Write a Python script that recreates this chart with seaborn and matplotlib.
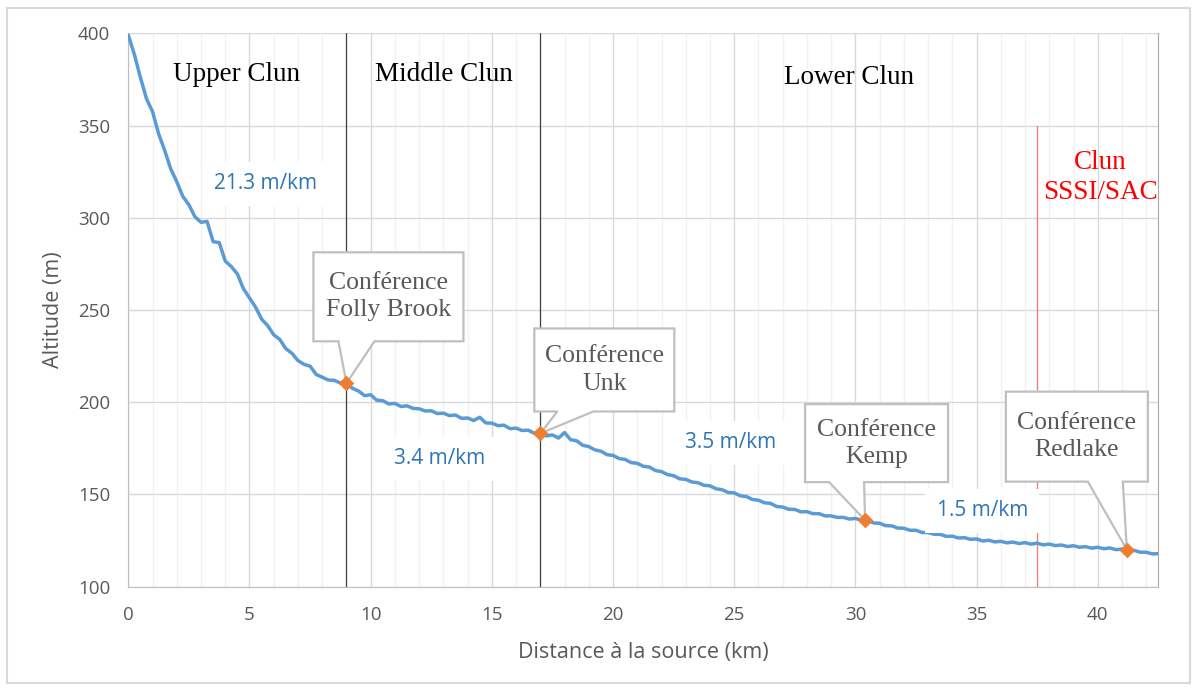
import matplotlib
matplotlib.use("Agg")
import matplotlib.pyplot as plt
import seaborn as sns
import pandas as pd
from matplotlib.patches import Rectangle, Polygon
from matplotlib.transforms import IdentityTransform
from matplotlib.ticker import MultipleLocator

# Profil en long de la Clun (lecture du graphique, pas de 0.25 km)
dist_km = [
    0.0, 0.25, 0.5, 0.75, 1.0, 1.25, 1.5, 1.75, 2.0, 2.25, 2.5, 2.75,
    3.0, 3.25, 3.5, 3.75, 4.0, 4.25, 4.5, 4.75, 5.0, 5.25, 5.5, 5.75,
    6.0, 6.25, 6.5, 6.75, 7.0, 7.25, 7.5, 7.75, 8.0, 8.25, 8.5, 8.75,
    9.0, 9.25, 9.5, 9.75, 10.0, 10.25, 10.5, 10.75, 11.0, 11.25, 11.5, 11.75,
    12.0, 12.25, 12.5, 12.75, 13.0, 13.25, 13.5, 13.75, 14.0, 14.25, 14.5, 14.75,
    15.0, 15.25, 15.5, 15.75, 16.0, 16.25, 16.5, 16.75, 17.0, 17.25, 17.5, 17.75,
    18.0, 18.25, 18.5, 18.75, 19.0, 19.25, 19.5, 19.75, 20.0, 20.25, 20.5, 20.75,
    21.0, 21.25, 21.5, 21.75, 22.0, 22.25, 22.5, 22.75, 23.0, 23.25, 23.5, 23.75,
    24.0, 24.25, 24.5, 24.75, 25.0, 25.25, 25.5, 25.75, 26.0, 26.25, 26.5, 26.75,
    27.0, 27.25, 27.5, 27.75, 28.0, 28.25, 28.5, 28.75, 29.0, 29.25, 29.5, 29.75,
    30.0, 30.25, 30.5, 30.75, 31.0, 31.25, 31.5, 31.75, 32.0, 32.25, 32.5, 32.75,
    33.0, 33.25, 33.5, 33.75, 34.0, 34.25, 34.5, 34.75, 35.0, 35.25, 35.5, 35.75,
    36.0, 36.25, 36.5, 36.75, 37.0, 37.25, 37.5, 37.75, 38.0, 38.25, 38.5, 38.75,
    39.0, 39.25, 39.5, 39.75, 40.0, 40.25, 40.5, 40.75, 41.0, 41.25, 41.5, 41.75,
    42.0, 42.25, 42.5]
altitude_m = [
    399.0, 388.5, 376.0, 364.5, 357.5, 345.5, 336.5, 326.5, 319.5, 311.5, 307.0, 300.5,
    297.5, 298.0, 287.0, 286.5, 276.5, 273.5, 269.5, 261.5, 256.5, 251.5, 245.0, 241.5,
    236.5, 234.0, 229.0, 226.5, 222.5, 220.5, 219.5, 215.0, 213.5, 212.0, 211.8, 210.4,
    210.2, 207.5, 206.0, 203.5, 204.0, 201.0, 200.8, 199.0, 199.3, 197.6, 198.0, 196.6,
    196.4, 195.2, 195.3, 193.8, 194.0, 192.7, 193.0, 191.2, 191.4, 190.0, 191.8, 188.7,
    188.6, 187.2, 187.5, 185.6, 185.9, 184.6, 184.8, 183.1, 183.0, 181.7, 182.2, 180.5,
    183.5, 179.6, 179.0, 176.6, 175.9, 174.1, 173.4, 171.5, 171.1, 169.4, 168.9, 167.2,
    166.8, 165.2, 164.8, 162.9, 162.3, 160.7, 160.1, 158.4, 158.1, 156.7, 156.3, 154.9,
    154.6, 153.0, 152.5, 151.0, 150.8, 149.2, 148.8, 147.2, 146.8, 145.4, 145.1, 143.4,
    143.1, 141.9, 141.8, 140.5, 140.6, 139.5, 139.5, 138.3, 138.3, 137.5, 137.5, 136.6,
    136.9, 136.0, 135.8, 134.5, 134.3, 133.0, 132.9, 131.7, 131.6, 130.5, 130.5, 129.3,
    129.3, 128.3, 128.3, 127.2, 127.3, 126.3, 126.5, 125.6, 125.8, 124.7, 125.1, 124.2,
    124.5, 123.7, 124.1, 123.3, 123.8, 123.0, 123.5, 122.6, 123.0, 122.2, 122.5, 121.7,
    122.1, 121.3, 121.6, 120.8, 121.3, 120.5, 120.9, 120.0, 120.3, 119.4, 119.6, 118.6,
    118.6, 117.7, 117.8]

# Confluences
conf_noms = ["Conférence\nFolly Brook", "Conférence\nUnk", "Conférence\nKemp", "Conférence\nRedlake"]
conf_km = [9.0, 17.0, 30.4, 41.2]
conf_alt = [210.2, 183.0, 136.0, 120.0]

# Troncons et pentes
troncons = ["Upper Clun", "Middle Clun", "Lower Clun"]
limites_km = [9, 17]
sssi_km = 37.5
pentes = ["21.3 m/km", "3.4 m/km", "3.5 m/km", "1.5 m/km"]

df = pd.DataFrame({"distance": dist_km, "altitude": altitude_m})
df_conf = pd.DataFrame({"distance": conf_km, "altitude": conf_alt, "nom": conf_noms})

sns.set_style("white")
plt.rcParams["font.family"] = ["Open Sans", "DejaVu Sans"]
serif = ["Liberation Serif", "DejaVu Serif"]
gris = "#595959"

fig = plt.figure(figsize=(11.97, 6.91), dpi=100)
ax = fig.add_axes([0.1072, 0.1512, 0.8605, 0.8006])

# cadre autour du graphique
fig.patches.append(Rectangle((0.006, 0.011), 0.988, 0.977, transform=fig.transFigure,
                             fill=False, ec="#D9D9D9", lw=1.5))

sns.lineplot(data=df, x="distance", y="altitude", ax=ax, color="#5B9BD5", lw=2.5, zorder=3)
sns.scatterplot(data=df_conf, x="distance", y="altitude", ax=ax, marker="D", s=55,
                color="#ED7D31", edgecolor="#ED7D31", zorder=7)

ax.set_xlim(0, 42.5)
ax.set_ylim(100, 400)
ax.xaxis.set_major_locator(MultipleLocator(5))
ax.xaxis.set_minor_locator(MultipleLocator(1))
ax.yaxis.set_major_locator(MultipleLocator(50))
ax.set_axisbelow(True)
ax.grid(which="minor", axis="x", color="#F2F2F2", lw=1)
ax.grid(which="major", color="#D9D9D9", lw=1)
ax.tick_params(which="both", length=0, labelsize=13.5, labelcolor=gris)
ax.tick_params(axis="x", pad=14)
ax.tick_params(axis="y", pad=13)

ax.spines["top"].set_visible(False)
for s in ["left", "bottom"]:
    ax.spines[s].set_color("#BFBFBF")
ax.spines["right"].set_color("#A6A6A6")

ax.set_xlabel("Distance à la source (km)", fontsize=15.5, color=gris)
ax.set_ylabel("Altitude (m)", fontsize=15.5, color=gris)
ax.xaxis.set_label_coords(0.5, -0.1)
ax.yaxis.set_label_coords(-0.062, 0.5)

# limites des troncons
for xl in limites_km:
    ax.axvline(xl, color="#404040", lw=0.9, zorder=2)
ax.axvline(sssi_km, ymax=(350 - 100) / 300, color="#F08080", lw=1, zorder=2)

pos_troncons = [(4.45, 377.5), (13.0, 377.5), (29.75, 376)]
for nom, (xt, yt) in zip(troncons, pos_troncons):
    ax.text(xt, yt, nom, family=serif, fontsize=19.5, ha="center", va="center", color="black")

ax.text(40.1, 322, "Clun\nSSSI/SAC", family=serif, fontsize=19.5, ha="center", va="center",
        color="#FF0000", linespacing=1.25)

# pentes
pos_pentes = [(5.65, 318.3), (12.86, 169.2), (24.84, 177.9), (35.24, 141)]
for txt, (xt, yt) in zip(pentes, pos_pentes):
    ax.text(xt, yt, txt, fontsize=15, ha="center", va="center", color="#2E75B6", zorder=5,
            bbox=dict(boxstyle="square,pad=0.55", fc="white", ec="none"))

# bulles des confluences (en pixels autour du point : gauche, droite, bas, haut, base de la pointe)
bulles = [(-33, 117, 42, 131, -8, 28),
          (-6, 134, 22, 105, 17, 53),
          (-60, 83, 38, 116, -36, -1),
          (-121, 21, 68, 158, -39, -4)]
fig.canvas.draw()
for (xk, ya, nom), (g, d, b, h, p1, p2) in zip(zip(conf_km, conf_alt, conf_noms), bulles):
    px, py = ax.transData.transform((xk, ya))
    contour = [(px + g, py + h), (px + d, py + h), (px + d, py + b), (px + p2, py + b),
               (px, py), (px + p1, py + b), (px + g, py + b)]
    ax.add_patch(Polygon(contour, closed=True, transform=IdentityTransform(), fc="white",
                         ec="#BFBFBF", lw=1.6, zorder=6, clip_on=False))
    ax.text(px + (g + d) / 2, py + (b + h) / 2, nom, transform=IdentityTransform(),
            family=serif, fontsize=18.5, color=gris, ha="center", va="center",
            linespacing=1.3, zorder=6.5)

fig.savefig("out.png", dpi=100)
